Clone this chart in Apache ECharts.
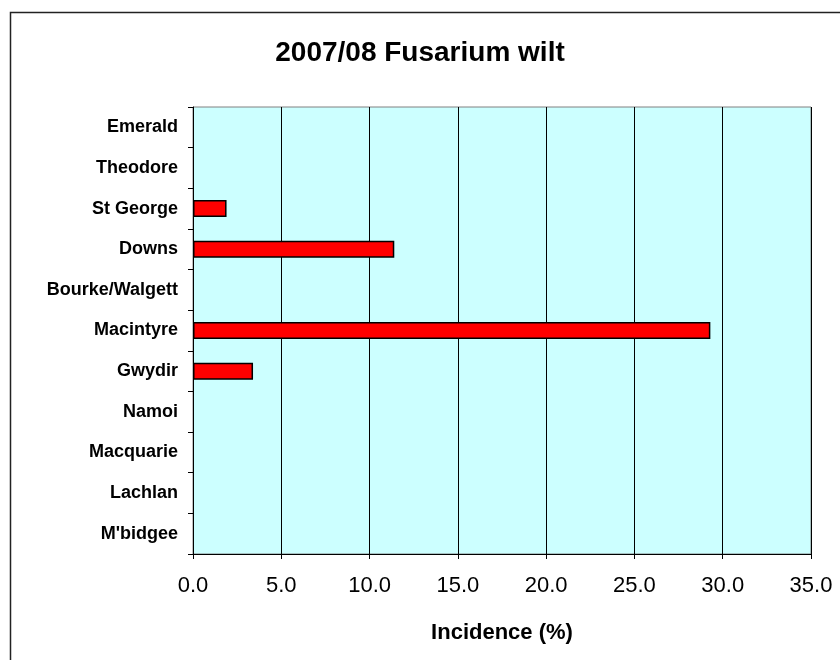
<!DOCTYPE html>
<html>
<head>
<meta charset="utf-8">
<script src="https://cdn.jsdelivr.net/npm/echarts@6/dist/echarts.min.js"></script>
<style>
  html, body { margin: 0; padding: 0; background: #fff; }
  #main { width: 840px; height: 660px; }
</style>
</head>
<body>
<div id="main"></div>
<script>
// regions, top to bottom
var regions = ['Emerald', 'Theodore', 'St George', 'Downs', 'Bourke/Walgett', 'Macintyre',
               'Gwydir', 'Namoi', 'Macquarie', 'Lachlan', "M'bidgee"];
// incidence (%), null = no bar
var incidence = [null, null, 1.9, 11.4, null, 29.3, 3.4, null, null, null, null];
var xTicks = [0, 5, 10, 15, 20, 25, 30, 35];

var chart = echarts.init(document.getElementById('main'));
chart.setOption({
  backgroundColor: '#fff',
  animation: false,
  title: {
    text: '2007/08 Fusarium wilt',
    left: 'center',
    top: 34,
    textStyle: { fontFamily: 'Liberation Sans', fontWeight: 'bold', fontSize: 28, color: '#000' }
  },
  graphic: [{
    type: 'rect',
    shape: { x: 10.5, y: 12.5, width: 860, height: 680 },
    style: { fill: null, stroke: '#222', lineWidth: 1.5 },
    silent: true
  }],
  grid: {
    left: 193, right: 29, top: 107, bottom: 106,
    show: true,
    backgroundColor: '#CCFFFF',
    borderColor: '#808080',
    borderWidth: 1
  },
  xAxis: {
    type: 'value',
    min: xTicks[0],
    max: xTicks[xTicks.length - 1],
    interval: 5,
    name: 'Incidence (%)',
    nameLocation: 'middle',
    nameGap: 68,
    nameTextStyle: { fontFamily: 'Liberation Sans', fontWeight: 'bold', fontSize: 22, color: '#000' },
    axisLine: { show: true, lineStyle: { color: '#000', width: 1 } },
    axisTick: { show: true, length: 5, lineStyle: { color: '#000' } },
    axisLabel: {
      margin: 21,
      fontFamily: 'Liberation Sans', fontSize: 22, color: '#000',
      formatter: function (v) { return v.toFixed(1); }
    },
    splitLine: { show: true, lineStyle: { color: '#000', width: 1 } }
  },
  yAxis: {
    type: 'category',
    data: regions,
    inverse: true,
    axisLine: { show: true, lineStyle: { color: '#000', width: 1 } },
    axisTick: { show: true, length: 5, lineStyle: { color: '#000' } },
    axisLabel: {
      margin: 15,
      fontFamily: 'Liberation Sans', fontWeight: 'bold', fontSize: 18, color: '#000'
    },
    splitLine: { show: false }
  },
  series: [{
    name: 'Incidence',
    type: 'bar',
    data: incidence,
    barWidth: 17,
    itemStyle: { color: '#FF0000', borderColor: '#000', borderWidth: 1.5 }
  }]
});
</script>
</body>
</html>
